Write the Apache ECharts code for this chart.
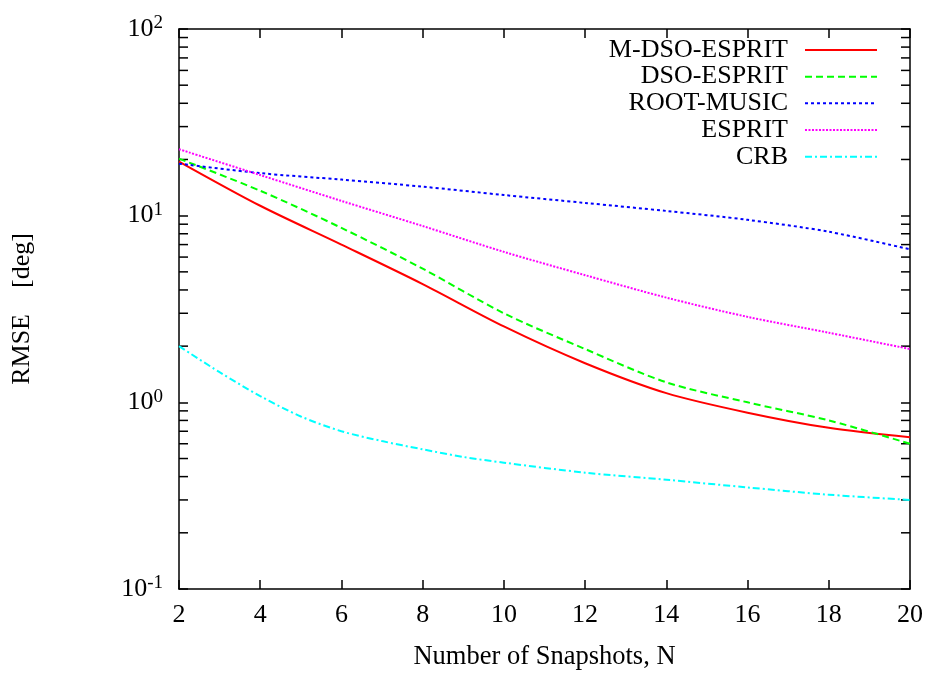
<!DOCTYPE html>
<html><head><meta charset="utf-8">
<script src="https://cdn.jsdelivr.net/npm/echarts@6/dist/echarts.min.js"></script>
<style>html,body{margin:0;padding:0;background:#fff}#c{width:932px;height:675px}</style>
</head><body><div id="c"></div>
<script>
// ---- data ----
const snapshots = [2, 4, 6, 8, 10, 12, 14, 16, 18, 20];
const mdsoEsprit = [19.5, 11.3, 7.0, 4.3, 2.55, 1.62, 1.12, 0.88, 0.73, 0.65];
const dsoEsprit  = [20.2, 13.6, 8.6, 5.2, 3.0, 1.93, 1.28, 1.0, 0.80, 0.60];
const rootMusic  = [19.0, 16.9, 15.6, 14.3, 12.9, 11.7, 10.6, 9.5, 8.2, 6.6];
const esprit     = [22.7, 16.5, 12.0, 8.8, 6.4, 4.8, 3.64, 2.87, 2.36, 1.93];
const crbSnapshots = [2, 3, 4, 5, 6, 7, 8, 9, 10, 12, 14, 16, 18, 20];
const crb        = [2.0, 1.45, 1.08, 0.84, 0.70, 0.62, 0.56, 0.51, 0.475, 0.42, 0.385, 0.35, 0.32, 0.30];
const seriesNames = ['M-DSO-ESPRIT', 'DSO-ESPRIT', 'ROOT-MUSIC', 'ESPRIT', 'CRB'];
const xTickValues = [2, 4, 6, 8, 10, 12, 14, 16, 18, 20];
const yDecades = [0.1, 1, 10, 100];
const yMinorTicks = [];
for (let d = 0; d < yDecades.length - 1; d++) {
  for (let m = 2; m <= 9; m++) yMinorTicks.push(+(yDecades[d] * m).toPrecision(3));
}

const FONT = 'Liberation Serif';
const pair = (xs, ys) => xs.map((x, i) => [x, ys[i]]);

const chart = echarts.init(document.getElementById('c'));
const tickStyle = { show: true, inside: true, length: 9, lineStyle: { color: '#000', width: 1.5 } };
const lineAxis = { show: true, lineStyle: { color: '#000', width: 1.5 } };

function lineSeries(name, data, color, type) {
  return {
    name, type: 'line', data, symbol: 'none', smooth: 0.3,
    lineStyle: { color, width: 2, type }, itemStyle: { color },
    xAxisIndex: 0, yAxisIndex: 0, z: 3
  };
}

chart.setOption({
  backgroundColor: '#fff',
  animation: false,
  grid: { left: 179, right: 22, top: 29, bottom: 86, outerBoundsMode: 'none' },
  xAxis: [{
    type: 'value', min: xTickValues[0], max: xTickValues[xTickValues.length - 1], interval: 2,
    position: 'bottom',
    axisLine: lineAxis, axisTick: tickStyle, splitLine: { show: false },
    axisLabel: { fontFamily: FONT, fontSize: 26, color: '#000', margin: 13 },
    name: 'Number of Snapshots, N', nameLocation: 'middle', nameGap: 55,
    nameTextStyle: { fontFamily: FONT, fontSize: 26.5, color: '#000' }
  }, {
    type: 'value', min: xTickValues[0], max: xTickValues[xTickValues.length - 1], interval: 2,
    position: 'top',
    axisLine: lineAxis, axisTick: tickStyle, splitLine: { show: false },
    axisLabel: { show: false }
  }],
  yAxis: [{
    type: 'log', logBase: 10, min: yDecades[0], max: yDecades[yDecades.length - 1], splitNumber: 3,
    position: 'left',
    axisLine: lineAxis, axisTick: tickStyle, splitLine: { show: false },
    axisLabel: {
      margin: 16, color: '#000',
      formatter: function (v) {
        const e = Math.round(Math.log10(v));
        return '{b|10}{s|' + e + '}';
      },
      rich: {
        b: { fontFamily: FONT, fontSize: 26, color: '#000', lineHeight: 30 },
        s: { fontFamily: FONT, fontSize: 19, color: '#000', lineHeight: 19, verticalAlign: 'top' }
      }
    },
    name: 'RMSE    [deg]', nameLocation: 'middle', nameRotate: 90, nameGap: 144,
    nameTextStyle: { fontFamily: FONT, fontSize: 26, color: '#000' }
  }, {
    type: 'log', logBase: 10, min: yDecades[0], max: yDecades[yDecades.length - 1], splitNumber: 3,
    position: 'right',
    axisLine: lineAxis, axisTick: tickStyle, splitLine: { show: false },
    axisLabel: { show: false }
  }],
  legend: seriesNames.map((n, i) => ({
    data: [n], orient: 'vertical', right: 54, top: 37 + i * 26.67, align: 'right',
    itemWidth: 72, itemHeight: 14, padding: 0, selectedMode: false,
    itemStyle: { opacity: 0 },
    textStyle: { fontFamily: FONT, fontSize: 26, color: '#000', lineHeight: 26, padding: [0, 12, 0, 0] }
  })),
  series: [
    lineSeries(seriesNames[0], pair(snapshots, mdsoEsprit), '#ff0000', 'solid'),
    lineSeries(seriesNames[1], pair(snapshots, dsoEsprit), '#00ff00', [7, 4]),
    lineSeries(seriesNames[2], pair(snapshots, rootMusic), '#0000ff', [3, 3]),
    lineSeries(seriesNames[3], pair(snapshots, esprit), '#ff00ff', [2, 1.5]),
    lineSeries(seriesNames[4], pair(crbSnapshots, crb), '#00ffff', [7, 3, 2, 3]),
    {
      type: 'custom', silent: true, xAxisIndex: 0, yAxisIndex: 0, z: 2,
      data: yMinorTicks.map(v => [xTickValues[0], v]),
      renderItem: function (params, api) {
        const v = api.value(1);
        const l = api.coord([xTickValues[0], v]);
        const r = api.coord([xTickValues[xTickValues.length - 1], v]);
        const st = { stroke: '#000', lineWidth: 1.5 };
        return { type: 'group', children: [
          { type: 'line', shape: { x1: l[0], y1: l[1], x2: l[0] + 9, y2: l[1] }, style: st },
          { type: 'line', shape: { x1: r[0], y1: r[1], x2: r[0] - 9, y2: r[1] }, style: st }
        ] };
      }
    }
  ]
});
</script></body></html>
